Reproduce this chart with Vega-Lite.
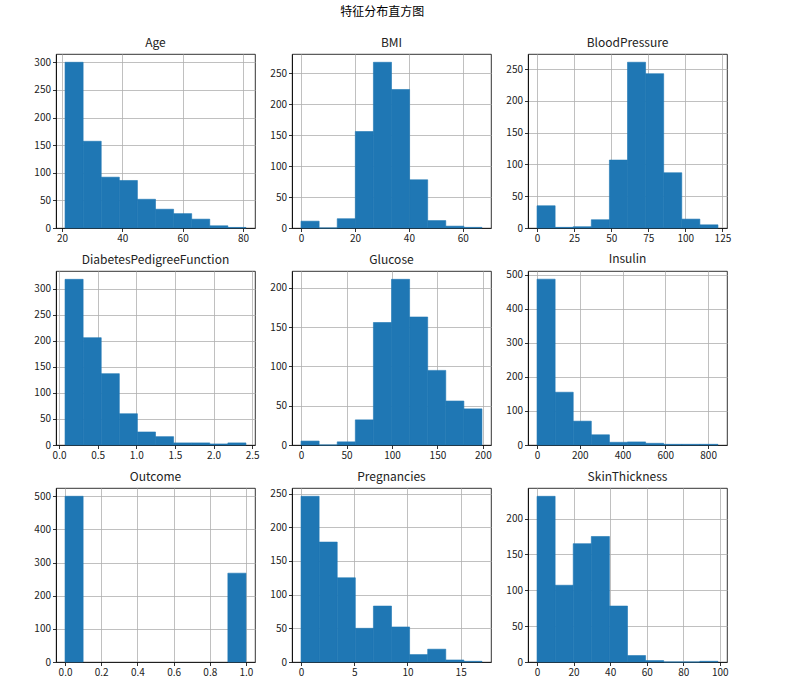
{
  "$schema": "https://vega.github.io/schema/vega-lite/v6.json",
  "padding": {"left": 33, "top": 5, "right": 5, "bottom": 5},
  "title": {"text": "特征分布直方图", "fontSize": 12, "fontWeight": "normal", "anchor": "middle", "offset": 18, "color": "#000"},
  "data": {"values": [
    {"feature": "Age", "bin_start": 21, "bin_end": 27, "count": 300},
    {"feature": "Age", "bin_start": 27, "bin_end": 33, "count": 157},
    {"feature": "Age", "bin_start": 33, "bin_end": 39, "count": 92},
    {"feature": "Age", "bin_start": 39, "bin_end": 45, "count": 86},
    {"feature": "Age", "bin_start": 45, "bin_end": 51, "count": 52},
    {"feature": "Age", "bin_start": 51, "bin_end": 57, "count": 34},
    {"feature": "Age", "bin_start": 57, "bin_end": 63, "count": 26},
    {"feature": "Age", "bin_start": 63, "bin_end": 69, "count": 16},
    {"feature": "Age", "bin_start": 69, "bin_end": 75, "count": 4},
    {"feature": "Age", "bin_start": 75, "bin_end": 81, "count": 1},
    {"feature": "BMI", "bin_start": 0, "bin_end": 6.71, "count": 11},
    {"feature": "BMI", "bin_start": 6.71, "bin_end": 13.42, "count": 0},
    {"feature": "BMI", "bin_start": 13.42, "bin_end": 20.13, "count": 15},
    {"feature": "BMI", "bin_start": 20.13, "bin_end": 26.84, "count": 156},
    {"feature": "BMI", "bin_start": 26.84, "bin_end": 33.55, "count": 268},
    {"feature": "BMI", "bin_start": 33.55, "bin_end": 40.26, "count": 224},
    {"feature": "BMI", "bin_start": 40.26, "bin_end": 46.97, "count": 78},
    {"feature": "BMI", "bin_start": 46.97, "bin_end": 53.68, "count": 12},
    {"feature": "BMI", "bin_start": 53.68, "bin_end": 60.39, "count": 3},
    {"feature": "BMI", "bin_start": 60.39, "bin_end": 67.1, "count": 1},
    {"feature": "BloodPressure", "bin_start": 0, "bin_end": 12.2, "count": 35},
    {"feature": "BloodPressure", "bin_start": 12.2, "bin_end": 24.4, "count": 1},
    {"feature": "BloodPressure", "bin_start": 24.4, "bin_end": 36.6, "count": 2},
    {"feature": "BloodPressure", "bin_start": 36.6, "bin_end": 48.8, "count": 13},
    {"feature": "BloodPressure", "bin_start": 48.8, "bin_end": 61, "count": 107},
    {"feature": "BloodPressure", "bin_start": 61, "bin_end": 73.2, "count": 261},
    {"feature": "BloodPressure", "bin_start": 73.2, "bin_end": 85.4, "count": 243},
    {"feature": "BloodPressure", "bin_start": 85.4, "bin_end": 97.6, "count": 87},
    {"feature": "BloodPressure", "bin_start": 97.6, "bin_end": 109.8, "count": 14},
    {"feature": "BloodPressure", "bin_start": 109.8, "bin_end": 122, "count": 5},
    {"feature": "DiabetesPedigreeFunction", "bin_start": 0.078, "bin_end": 0.3122, "count": 318},
    {"feature": "DiabetesPedigreeFunction", "bin_start": 0.3122, "bin_end": 0.5464, "count": 206},
    {"feature": "DiabetesPedigreeFunction", "bin_start": 0.5464, "bin_end": 0.7806, "count": 137},
    {"feature": "DiabetesPedigreeFunction", "bin_start": 0.7806, "bin_end": 1.0148, "count": 60},
    {"feature": "DiabetesPedigreeFunction", "bin_start": 1.0148, "bin_end": 1.249, "count": 25},
    {"feature": "DiabetesPedigreeFunction", "bin_start": 1.249, "bin_end": 1.4832, "count": 16},
    {"feature": "DiabetesPedigreeFunction", "bin_start": 1.4832, "bin_end": 1.7174, "count": 4},
    {"feature": "DiabetesPedigreeFunction", "bin_start": 1.7174, "bin_end": 1.9516, "count": 4},
    {"feature": "DiabetesPedigreeFunction", "bin_start": 1.9516, "bin_end": 2.1858, "count": 2},
    {"feature": "DiabetesPedigreeFunction", "bin_start": 2.1858, "bin_end": 2.42, "count": 4},
    {"feature": "Glucose", "bin_start": 0, "bin_end": 19.9, "count": 5},
    {"feature": "Glucose", "bin_start": 19.9, "bin_end": 39.8, "count": 0},
    {"feature": "Glucose", "bin_start": 39.8, "bin_end": 59.7, "count": 4},
    {"feature": "Glucose", "bin_start": 59.7, "bin_end": 79.6, "count": 32},
    {"feature": "Glucose", "bin_start": 79.6, "bin_end": 99.5, "count": 156},
    {"feature": "Glucose", "bin_start": 99.5, "bin_end": 119.4, "count": 211},
    {"feature": "Glucose", "bin_start": 119.4, "bin_end": 139.3, "count": 163},
    {"feature": "Glucose", "bin_start": 139.3, "bin_end": 159.2, "count": 95},
    {"feature": "Glucose", "bin_start": 159.2, "bin_end": 179.1, "count": 56},
    {"feature": "Glucose", "bin_start": 179.1, "bin_end": 199, "count": 46},
    {"feature": "Insulin", "bin_start": 0, "bin_end": 84.6, "count": 487},
    {"feature": "Insulin", "bin_start": 84.6, "bin_end": 169.2, "count": 155},
    {"feature": "Insulin", "bin_start": 169.2, "bin_end": 253.8, "count": 70},
    {"feature": "Insulin", "bin_start": 253.8, "bin_end": 338.4, "count": 30},
    {"feature": "Insulin", "bin_start": 338.4, "bin_end": 423, "count": 8},
    {"feature": "Insulin", "bin_start": 423, "bin_end": 507.6, "count": 9},
    {"feature": "Insulin", "bin_start": 507.6, "bin_end": 592.2, "count": 5},
    {"feature": "Insulin", "bin_start": 592.2, "bin_end": 676.8, "count": 2},
    {"feature": "Insulin", "bin_start": 676.8, "bin_end": 761.4, "count": 2},
    {"feature": "Insulin", "bin_start": 761.4, "bin_end": 846, "count": 2},
    {"feature": "Outcome", "bin_start": 0, "bin_end": 0.1, "count": 500},
    {"feature": "Outcome", "bin_start": 0.9, "bin_end": 1.0, "count": 268},
    {"feature": "Pregnancies", "bin_start": 0, "bin_end": 1.7, "count": 246},
    {"feature": "Pregnancies", "bin_start": 1.7, "bin_end": 3.4, "count": 178},
    {"feature": "Pregnancies", "bin_start": 3.4, "bin_end": 5.1, "count": 125},
    {"feature": "Pregnancies", "bin_start": 5.1, "bin_end": 6.8, "count": 50},
    {"feature": "Pregnancies", "bin_start": 6.8, "bin_end": 8.5, "count": 83},
    {"feature": "Pregnancies", "bin_start": 8.5, "bin_end": 10.2, "count": 52},
    {"feature": "Pregnancies", "bin_start": 10.2, "bin_end": 11.9, "count": 11},
    {"feature": "Pregnancies", "bin_start": 11.9, "bin_end": 13.6, "count": 19},
    {"feature": "Pregnancies", "bin_start": 13.6, "bin_end": 15.3, "count": 3},
    {"feature": "Pregnancies", "bin_start": 15.3, "bin_end": 17, "count": 1},
    {"feature": "SkinThickness", "bin_start": 0, "bin_end": 9.9, "count": 231},
    {"feature": "SkinThickness", "bin_start": 9.9, "bin_end": 19.8, "count": 107},
    {"feature": "SkinThickness", "bin_start": 19.8, "bin_end": 29.7, "count": 165},
    {"feature": "SkinThickness", "bin_start": 29.7, "bin_end": 39.6, "count": 175},
    {"feature": "SkinThickness", "bin_start": 39.6, "bin_end": 49.5, "count": 78},
    {"feature": "SkinThickness", "bin_start": 49.5, "bin_end": 59.4, "count": 9},
    {"feature": "SkinThickness", "bin_start": 59.4, "bin_end": 69.3, "count": 2},
    {"feature": "SkinThickness", "bin_start": 69.3, "bin_end": 79.2, "count": 0},
    {"feature": "SkinThickness", "bin_start": 79.2, "bin_end": 89.1, "count": 0},
    {"feature": "SkinThickness", "bin_start": 89.1, "bin_end": 99, "count": 1}
  ]},
  "columns": 3,
  "spacing": {"row": 43, "column": 37},
  "bounds": "flush",
  "concat": [
    {"title": "Age", "width": 199, "height": 174,
     "transform": [{"filter": "datum.feature === 'Age'"}],
     "mark": {"type": "rect", "color": "#1f77b4", "stroke": "#1f77b4", "strokeWidth": 0.6},
     "encoding": {
       "x": {"field": "bin_start", "type": "quantitative", "scale": {"domain": [18, 84], "nice": false, "zero": false}, "axis": {"values": [20, 40, 60, 80]}},
       "x2": {"field": "bin_end"},
       "y": {"field": "count", "type": "quantitative", "scale": {"domain": [0, 315], "nice": false}, "axis": {"values": [0, 50, 100, 150, 200, 250, 300]}},
       "y2": {"datum": 0}}},
    {"title": "BMI", "width": 199, "height": 174,
     "transform": [{"filter": "datum.feature === 'BMI'"}],
     "mark": {"type": "rect", "color": "#1f77b4", "stroke": "#1f77b4", "strokeWidth": 0.6},
     "encoding": {
       "x": {"field": "bin_start", "type": "quantitative", "scale": {"domain": [-3.355, 70.455], "nice": false, "zero": false}, "axis": {"values": [0, 20, 40, 60]}},
       "x2": {"field": "bin_end"},
       "y": {"field": "count", "type": "quantitative", "scale": {"domain": [0, 281.4], "nice": false}, "axis": {"values": [0, 50, 100, 150, 200, 250]}},
       "y2": {"datum": 0}}},
    {"title": "BloodPressure", "width": 199, "height": 174,
     "transform": [{"filter": "datum.feature === 'BloodPressure'"}],
     "mark": {"type": "rect", "color": "#1f77b4", "stroke": "#1f77b4", "strokeWidth": 0.6},
     "encoding": {
       "x": {"field": "bin_start", "type": "quantitative", "scale": {"domain": [-6.1, 128.1], "nice": false, "zero": false}, "axis": {"values": [0, 25, 50, 75, 100, 125]}},
       "x2": {"field": "bin_end"},
       "y": {"field": "count", "type": "quantitative", "scale": {"domain": [0, 274], "nice": false}, "axis": {"values": [0, 50, 100, 150, 200, 250]}},
       "y2": {"datum": 0}}},
    {"title": "DiabetesPedigreeFunction", "width": 199, "height": 174,
     "transform": [{"filter": "datum.feature === 'DiabetesPedigreeFunction'"}],
     "mark": {"type": "rect", "color": "#1f77b4", "stroke": "#1f77b4", "strokeWidth": 0.6},
     "encoding": {
       "x": {"field": "bin_start", "type": "quantitative", "scale": {"domain": [-0.039, 2.537], "nice": false, "zero": false}, "axis": {"values": [0, 0.5, 1, 1.5, 2, 2.5], "format": ".1f"}},
       "x2": {"field": "bin_end"},
       "y": {"field": "count", "type": "quantitative", "scale": {"domain": [0, 334], "nice": false}, "axis": {"values": [0, 50, 100, 150, 200, 250, 300]}},
       "y2": {"datum": 0}}},
    {"title": "Glucose", "width": 199, "height": 174,
     "transform": [{"filter": "datum.feature === 'Glucose'"}],
     "mark": {"type": "rect", "color": "#1f77b4", "stroke": "#1f77b4", "strokeWidth": 0.6},
     "encoding": {
       "x": {"field": "bin_start", "type": "quantitative", "scale": {"domain": [-9.95, 208.95], "nice": false, "zero": false}, "axis": {"values": [0, 50, 100, 150, 200]}},
       "x2": {"field": "bin_end"},
       "y": {"field": "count", "type": "quantitative", "scale": {"domain": [0, 221.6], "nice": false}, "axis": {"values": [0, 50, 100, 150, 200]}},
       "y2": {"datum": 0}}},
    {"title": "Insulin", "width": 199, "height": 174,
     "transform": [{"filter": "datum.feature === 'Insulin'"}],
     "mark": {"type": "rect", "color": "#1f77b4", "stroke": "#1f77b4", "strokeWidth": 0.6},
     "encoding": {
       "x": {"field": "bin_start", "type": "quantitative", "scale": {"domain": [-42.3, 888.3], "nice": false, "zero": false}, "axis": {"values": [0, 200, 400, 600, 800]}},
       "x2": {"field": "bin_end"},
       "y": {"field": "count", "type": "quantitative", "scale": {"domain": [0, 511], "nice": false}, "axis": {"values": [0, 100, 200, 300, 400, 500]}},
       "y2": {"datum": 0}}},
    {"title": "Outcome", "width": 199, "height": 174,
     "transform": [{"filter": "datum.feature === 'Outcome'"}],
     "mark": {"type": "rect", "color": "#1f77b4", "stroke": "#1f77b4", "strokeWidth": 0.6},
     "encoding": {
       "x": {"field": "bin_start", "type": "quantitative", "scale": {"domain": [-0.05, 1.05], "nice": false, "zero": false}, "axis": {"values": [0, 0.2, 0.4, 0.6, 0.8, 1], "format": ".1f"}},
       "x2": {"field": "bin_end"},
       "y": {"field": "count", "type": "quantitative", "scale": {"domain": [0, 525], "nice": false}, "axis": {"values": [0, 100, 200, 300, 400, 500]}},
       "y2": {"datum": 0}}},
    {"title": "Pregnancies", "width": 199, "height": 174,
     "transform": [{"filter": "datum.feature === 'Pregnancies'"}],
     "mark": {"type": "rect", "color": "#1f77b4", "stroke": "#1f77b4", "strokeWidth": 0.6},
     "encoding": {
       "x": {"field": "bin_start", "type": "quantitative", "scale": {"domain": [-0.85, 17.85], "nice": false, "zero": false}, "axis": {"values": [0, 5, 10, 15]}},
       "x2": {"field": "bin_end"},
       "y": {"field": "count", "type": "quantitative", "scale": {"domain": [0, 258.3], "nice": false}, "axis": {"values": [0, 50, 100, 150, 200, 250]}},
       "y2": {"datum": 0}}},
    {"title": "SkinThickness", "width": 199, "height": 174,
     "transform": [{"filter": "datum.feature === 'SkinThickness'"}],
     "mark": {"type": "rect", "color": "#1f77b4", "stroke": "#1f77b4", "strokeWidth": 0.6},
     "encoding": {
       "x": {"field": "bin_start", "type": "quantitative", "scale": {"domain": [-4.95, 103.95], "nice": false, "zero": false}, "axis": {"values": [0, 20, 40, 60, 80, 100]}},
       "x2": {"field": "bin_end"},
       "y": {"field": "count", "type": "quantitative", "scale": {"domain": [0, 242.6], "nice": false}, "axis": {"values": [0, 50, 100, 150, 200]}},
       "y2": {"datum": 0}}}
  ],
  "config": {
    "font": "Noto Sans CJK SC",
    "background": "white",
    "view": {"stroke": "#000", "strokeWidth": 0.8},
    "axis": {
      "grid": true, "gridColor": "#b0b0b0", "gridWidth": 0.8, "gridOpacity": 1,
      "domain": true, "domainColor": "#000", "domainWidth": 0.8,
      "ticks": true, "tickColor": "#000", "tickSize": 3.5, "tickWidth": 0.8,
      "labelFontSize": 10, "labelColor": "#222", "labelFlush": false, "labelOverlap": false, "labelPadding": 2,
      "title": null, "zindex": 1
    },
    "title": {"fontSize": 12, "fontWeight": "normal", "offset": 4, "color": "#222"}
  }
}
